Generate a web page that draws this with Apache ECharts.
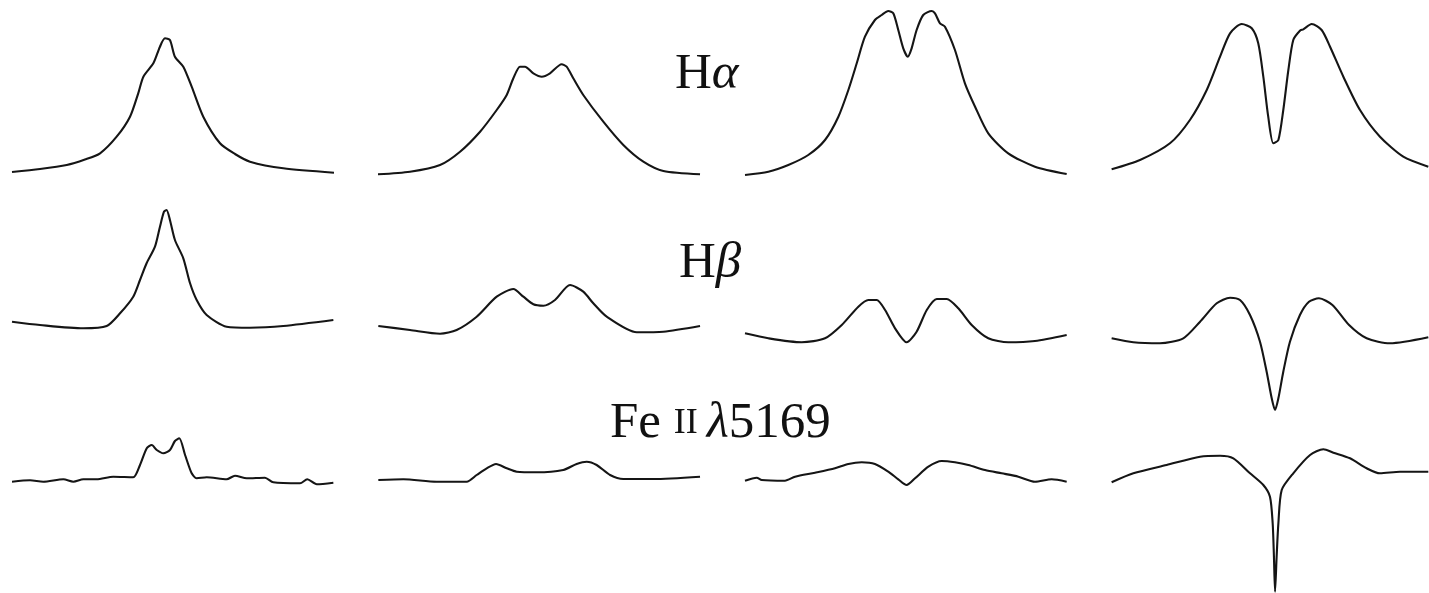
<!DOCTYPE html>
<html>
<head>
<meta charset="utf-8">
<script src="https://cdn.jsdelivr.net/npm/echarts@6/dist/echarts.min.js"></script>
<style>
html,body{margin:0;padding:0;background:#fff;}
#chart{width:1429px;height:593px;}
</style>
</head>
<body>
<div id="chart"></div>
<script>
// Line labels
const rowLabels = ['Hα', 'Hβ', 'Fe II λ5169'];

// Normalised velocity (x) and normalised flux (y) for each panel
// Row 1: H-alpha
const haP1V = [-1.00,-0.826,-0.660,-0.547,-0.453,-0.350,-0.267,-0.216,-0.184,-0.122,-0.081,-0.050,-0.019,0.012,0.064,0.116,0.188,0.292,0.385,0.478,0.685,1.00];
const haP1F = [1.00,1.03,1.07,1.125,1.187,1.353,1.553,1.787,1.953,2.087,2.253,2.337,2.32,2.153,2.053,1.853,1.553,1.287,1.18,1.103,1.037,0.993];
const haP2V = [-1.00,-0.802,-0.616,-0.492,-0.368,-0.265,-0.203,-0.162,-0.121,-0.090,-0.038,0.014,0.065,0.137,0.168,0.209,0.271,0.395,0.519,0.643,0.767,0.994];
const haP2F = [0.977,1.003,1.07,1.203,1.403,1.62,1.77,1.937,2.053,2.053,1.987,1.953,1.987,2.077,2.053,1.937,1.77,1.503,1.27,1.103,1.01,0.977];
const haP3V = [-1.00,-0.855,-0.731,-0.607,-0.503,-0.420,-0.358,-0.306,-0.255,-0.193,-0.151,-0.110,-0.079,-0.048,-0.017,0.011,0.035,0.066,0.107,0.160,0.180,0.211,0.242,0.304,0.366,0.429,0.511,0.635,0.801,0.998];
const haP3F = [0.97,1.003,1.07,1.17,1.32,1.553,1.82,2.087,2.353,2.52,2.57,2.61,2.587,2.42,2.237,2.153,2.237,2.42,2.57,2.61,2.587,2.487,2.453,2.22,1.887,1.653,1.387,1.187,1.053,0.98];
const haP4V = [-0.996,-0.817,-0.628,-0.502,-0.396,-0.312,-0.249,-0.175,-0.112,-0.071,-0.039,-0.008,0.024,0.056,0.087,0.119,0.150,0.192,0.213,0.266,0.329,0.382,0.466,0.571,0.697,0.844,1.002];
const haP4F = [1.027,1.12,1.287,1.52,1.82,2.153,2.387,2.48,2.437,2.287,1.953,1.553,1.287,1.32,1.62,2.02,2.32,2.413,2.427,2.48,2.42,2.253,1.953,1.62,1.353,1.153,1.053];

// Row 2: H-beta
const hbP1V = [-1.00,-0.826,-0.557,-0.412,-0.329,-0.247,-0.205,-0.164,-0.112,-0.081,-0.056,-0.040,-0.019,0.012,0.064,0.106,0.147,0.209,0.333,0.478,0.685,0.996];
const hbP1F = [1.033,1.0,0.967,0.99,1.117,1.283,1.45,1.617,1.783,1.983,2.133,2.15,2.05,1.85,1.667,1.417,1.25,1.1,0.983,0.973,0.99,1.05];
const hbP2V = [-0.998,-0.802,-0.616,-0.513,-0.389,-0.265,-0.162,-0.100,-0.038,0.024,0.096,0.189,0.271,0.333,0.416,0.602,0.767,0.994];
const hbP2F = [0.99,0.95,0.913,0.95,1.083,1.283,1.36,1.283,1.207,1.193,1.25,1.4,1.333,1.217,1.083,0.927,0.933,0.99];
const hbP3V = [-1.00,-0.855,-0.648,-0.503,-0.399,-0.296,-0.234,-0.182,-0.130,-0.068,0.004,0.066,0.129,0.191,0.253,0.325,0.408,0.511,0.635,0.801,0.998];
const hbP3F = [0.917,0.867,0.827,0.867,1.0,1.183,1.25,1.25,1.15,0.967,0.827,0.933,1.15,1.26,1.26,1.167,1.0,0.867,0.827,0.84,0.9];
const hbP4V = [-0.996,-0.859,-0.691,-0.544,-0.438,-0.333,-0.249,-0.186,-0.123,-0.060,-0.018,0.014,0.035,0.056,0.087,0.129,0.192,0.249,0.312,0.397,0.502,0.613,0.760,1.002];
const hbP4F = [0.867,0.827,0.817,0.867,1.033,1.217,1.273,1.25,1.1,0.833,0.533,0.267,0.15,0.267,0.533,0.833,1.1,1.233,1.267,1.2,1.0,0.867,0.817,0.877];

// Row 3: Fe II 5169
const feP1V = [-1.00,-0.888,-0.806,-0.681,-0.619,-0.557,-0.474,-0.371,-0.247,-0.205,-0.163,-0.132,-0.101,-0.060,-0.019,0.012,0.039,0.075,0.116,0.147,0.209,0.333,0.385,0.458,0.571,0.623,0.789,0.834,0.893,0.996];
const feP1F = [0.983,0.997,0.983,1.007,0.983,1.007,1.007,1.033,1.027,1.15,1.317,1.35,1.3,1.267,1.3,1.39,1.417,1.25,1.067,1.017,1.027,1.007,1.043,1.017,1.023,0.977,0.967,1.007,0.957,0.973];
const feP2V = [-0.998,-0.843,-0.637,-0.451,-0.389,-0.327,-0.269,-0.203,-0.141,-0.017,0.147,0.230,0.292,0.354,0.437,0.519,0.705,0.994];
const feP2F = [1.0,1.007,0.983,0.983,1.05,1.117,1.16,1.117,1.083,1.077,1.1,1.16,1.183,1.15,1.05,1.01,1.01,1.033];
const feP3V = [-1.00,-0.927,-0.896,-0.752,-0.689,-0.565,-0.441,-0.358,-0.275,-0.193,-0.110,-0.048,0.004,0.056,0.139,0.222,0.304,0.387,0.491,0.594,0.698,0.801,0.905,0.998];
const feP3F = [0.993,1.023,1.0,0.993,1.033,1.073,1.117,1.16,1.177,1.16,1.083,1.007,0.95,1.017,1.133,1.19,1.177,1.15,1.1,1.067,1.033,0.983,1.007,0.983];
const feP4V = [-0.996,-0.859,-0.649,-0.438,-0.312,-0.228,-0.123,-0.039,0.003,0.020,0.028,0.035,0.045,0.056,0.077,0.150,0.256,0.340,0.403,0.508,0.613,0.697,0.823,1.002];
const feP4F = [0.977,1.067,1.15,1.233,1.243,1.217,1.067,0.95,0.833,0.567,0.233,-0.117,0.233,0.567,0.9,1.067,1.25,1.307,1.273,1.217,1.117,1.067,1.083,1.083];

const panels = [
  [haP1V, haP1F], [haP2V, haP2F], [haP3V, haP3F], [haP4V, haP4F],
  [hbP1V, hbP1F], [hbP2V, hbP2F], [hbP3V, hbP3F], [hbP4V, hbP4F],
  [feP1V, feP1F], [feP2V, feP2F], [feP3V, feP3F], [feP4V, feP4F]
];

// layout (pixels)
const colBoxes = [[12, 322], [378, 323], [745, 322], [1111, 317]];
const rowBoxes = [
  {top: 2, height: 200, min: 0.7, max: 2.7},
  {top: 195, height: 230, min: 0.0, max: 2.3},
  {top: 430, height: 163, min: -0.13, max: 1.5}
];

const grids = [], xAxes = [], yAxes = [], series = [];
panels.forEach((p, i) => {
  const r = Math.floor(i / 4), c = i % 4;
  grids.push({left: colBoxes[c][0], width: colBoxes[c][1], top: rowBoxes[r].top, height: rowBoxes[r].height, containLabel: false});
  xAxes.push({type: 'value', gridIndex: i, min: -1, max: 1, show: false});
  yAxes.push({type: 'value', gridIndex: i, min: rowBoxes[r].min, max: rowBoxes[r].max, show: false});
  series.push({
    type: 'line', xAxisIndex: i, yAxisIndex: i,
    data: p[0].map((v, k) => [v, p[1][k]]),
    showSymbol: false, smooth: 0.25, silent: true,
    lineStyle: {color: '#151515', width: 2.1},
    clip: false
  });
});

const serif = '"Liberation Serif", "DejaVu Serif", serif';
const fs = 51;
const richStyle = {
  n: {fontFamily: serif, fontSize: fs, fill: '#111'},
  s: {fontFamily: serif, fontSize: 36, fill: '#111'},
  g: {fontFamily: serif, fontSize: fs, fontStyle: 'italic', fill: '#111'}
};
const chart = echarts.init(document.getElementById('chart'));
chart.setOption({
  animation: false,
  backgroundColor: '#ffffff',
  grid: grids, xAxis: xAxes, yAxis: yAxes, series: series,
  graphic: [
    {type: 'text', left: 675, top: 49, style: {text: '{n|H}{g|α}', rich: richStyle}},
    {type: 'text', left: 679, top: 238, style: {text: '{n|H}{g|β}', rich: richStyle}},
    {type: 'text', left: 610, top: 398, style: {text: '{n|Fe }{s|II }{g|λ}{n|5169}', rich: richStyle}}
  ]
});
</script>
</body>
</html>
